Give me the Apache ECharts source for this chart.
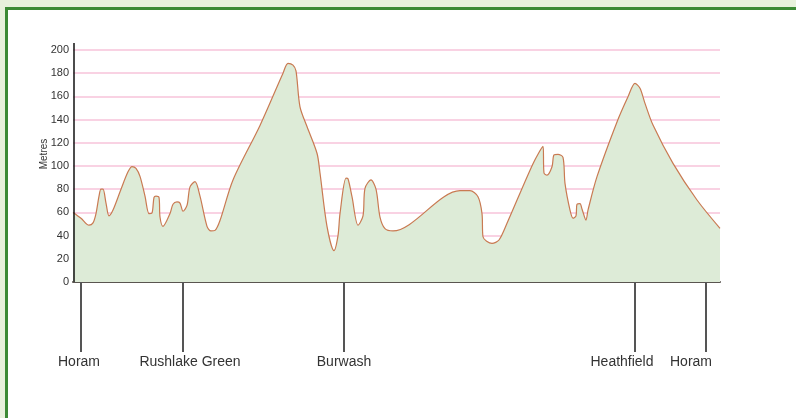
<!DOCTYPE html>
<html>
<head>
<meta charset="utf-8">
<script src="https://cdn.jsdelivr.net/npm/echarts@6/dist/echarts.min.js"></script>
<style>
html,body{margin:0;padding:0;width:796px;height:418px;overflow:hidden;background:#e8f1dc;}
#frame{position:absolute;left:5px;top:7px;width:900px;height:500px;background:#fff;border-left:3px solid #3c8a35;border-top:3px solid #3c8a35;}
#chart{position:absolute;left:0;top:0;width:796px;height:418px;}
</style>
</head>
<body>
<div id="frame"></div>
<div id="chart"></div>
<script>
// Route distance (arbitrary km-like units along the route)
const distances = [0.0,0.8,1.6,2.0,2.3,2.6,2.8,3.0,3.3,3.6,4.0,4.8,5.5,5.9,6.3,6.7,7.2,7.6,7.9,8.1,8.3,8.6,8.7,9.0,9.7,10.0,10.4,10.7,11.0,11.4,11.7,12.2,12.7,13.4,13.8,14.2,14.7,16.0,18.7,21.0,21.5,22.0,22.3,22.7,23.4,24.4,24.7,25.4,26.1,26.5,26.7,27.3,27.5,27.9,28.5,29.0,29.2,29.8,30.3,30.7,31.2,32.0,38.7,39.7,40.5,40.9,41.0,41.9,42.6,43.4,46.0,47.0,47.1,47.4,47.9,48.1,48.5,49.0,49.2,49.7,50.0,50.3,50.4,50.7,50.9,51.3,51.5,52.4,54.4,55.5,56.2,56.7,57.2,58.0,60.0,62.4,64.7];
// Height in metres
const heights = [60,55,49,51,59,74,80,80,68,57,62,80,95,99.5,98,91,74,59,59.5,73,74,73,56,48,59,67,69,68,61,66,82,86.5,74,48,44,44.5,53,88,135,180,188.5,187,182,151,134,111,94,48,27,40,59,89.5,89,73.5,49,57,80.8,88,80,56,46,44,78.7,78.7,73.5,59,39,33.3,36.2,50.6,102,117,94,92.2,99.4,109.5,110,107.5,85,62,55,57,67,67.5,63,53.4,62,90.8,138,159.7,171.3,167,154,135.3,102.3,70.7,46.3];
const placeNames = ['Horam','Rushlake Green','Burwash','Heathfield','Horam'];
const placeDist = [0.8, 11.0, 27.1, 56.2, 63.3];
const yTicks = [0,20,40,60,80,100,120,140,160,180,200];

// styling (label nudges to avoid overlap)
const labelShift = [-2, 7, 0, -13, -15];

const routeMax = 64.7;
const chart = echarts.init(document.getElementById('chart'), null, {renderer:'canvas'});
const profile = distances.map((d,i)=>[d, heights[i]]);
const FONT = 'Liberation Sans, Arial, sans-serif';

const option = {
  backgroundColor: 'transparent',
  animation: false,
  grid: [
    {left: 73, right: 76, top: 50, height: 232},
    {left: 73, right: 76, top: 282, height: 70}
  ],
  xAxis: [
    {type:'value', gridIndex:0, min:0, max:routeMax, show:true,
     axisLine:{show:true, onZero:false, lineStyle:{color:'#5a5550', width:2}},
     axisTick:{show:false}, axisLabel:{show:false}, splitLine:{show:false}},
    {type:'value', gridIndex:1, min:0, max:routeMax, show:false}
  ],
  yAxis: [
    {type:'value', gridIndex:0, min:yTicks[0], max:yTicks[yTicks.length-1], interval:20,
     name:'Metres', nameLocation:'middle', nameRotate:90, nameGap:24, nameMoveOverlap:false,
     nameTextStyle:{fontFamily:FONT, fontSize:10, color:'#333', padding:[0,0,0,24]},
     axisLine:{show:false}, axisTick:{show:false},
     axisLabel:{fontFamily:FONT, fontSize:11, color:'#333', margin:4},
     splitLine:{show:true, lineStyle:{color:'#f7c3da', width:1.5}}},
    {type:'value', gridIndex:1, min:0, max:1, show:false}
  ],
  series: [
    {type:'line', xAxisIndex:0, yAxisIndex:0, data: profile, smooth:0.3,
     showSymbol:false, symbol:'none',
     lineStyle:{color:'#c97a52', width:1.2},
     areaStyle:{color:'#ddebd7', opacity:1}, z:2},
    {type:'scatter', xAxisIndex:1, yAxisIndex:1, data:[], 
     markLine:{
       silent:true, symbol:['none','none'],
       lineStyle:{color:'#555', width:2, type:'solid'},
       label:{show:true, position:'start', distance:3,
              fontFamily:FONT, fontSize:14, color:'#333',
              formatter: p => p.name},
       data: placeDist.map((d,i)=>({name:placeNames[i], xAxis:d,
              label:{offset:[labelShift[i],0]}}))
     }}
  ]
};
chart.setOption(option);

// y-axis line, extending slightly above the top tick as in the original
const p0 = chart.convertToPixel({xAxisIndex:0, yAxisIndex:0}, [0, 0]);
const pTop = chart.convertToPixel({xAxisIndex:0, yAxisIndex:0}, [0, 206]);
chart.setOption({graphic:[{type:'line', shape:{x1:p0[0]+1, y1:p0[1], x2:pTop[0]+1, y2:pTop[1]},
  style:{stroke:'#111', lineWidth:1.5}, z:10}]});
</script>
</body>
</html>
